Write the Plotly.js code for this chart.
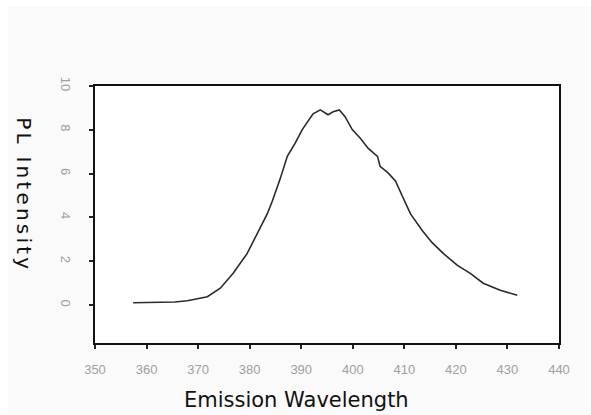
<!DOCTYPE html>
<html>
<head>
<meta charset="utf-8">
<script src="https://cdn.plot.ly/plotly-3.0.1.min.js"></script>
<style>
html,body{margin:0;padding:0;background:#ffffff;}
#chart{position:absolute;left:8px;top:6px;width:583px;height:409px;}
</style>
</head>
<body>
<div id="chart"></div>
<script>
const wavelength = [357.4, 361.3, 365.5, 367.9, 371.8, 374.3, 376.8, 379.5, 381.5, 383.4, 384.4, 385.9, 387.3, 388.8, 390.2, 391.2, 392.3, 393.7, 395.2, 396.2, 397.4, 398.5, 399.9, 401.5, 403.0, 404.8, 405.3, 406.9, 408.3, 409.6, 410.8, 411.2, 413.5, 415.4, 417.6, 420.3, 422.8, 425.3, 428.6, 431.9];
const intensity = [0.11, 0.14, 0.14, 0.20, 0.38, 0.77, 1.45, 2.35, 3.26, 4.16, 4.75, 5.75, 6.79, 7.38, 8.01, 8.37, 8.73, 8.91, 8.69, 8.82, 8.91, 8.60, 8.01, 7.60, 7.15, 6.79, 6.33, 6.02, 5.66, 4.98, 4.39, 4.16, 3.39, 2.85, 2.35, 1.81, 1.45, 1.00, 0.68, 0.45];
const xTicks = [350, 360, 370, 380, 390, 400, 410, 420, 430, 440];
const yTicks = [0, 2, 4, 6, 8, 10];
const xTitle = 'Emission Wavelength';
const yTitle = 'PL Intensity';

const trace = {
  x: wavelength, y: intensity, type: 'scatter', mode: 'lines',
  line: {color: '#2a2a2a', width: 1.6}, hoverinfo: 'skip'
};
const axisCommon = {
  showgrid: false, zeroline: false, showline: true, linecolor: '#111', linewidth: 2,
  mirror: true, ticks: 'outside', ticklen: 4, tickwidth: 2, tickcolor: '#222',
  tickfont: {family: 'Liberation Sans, Arial, sans-serif', size: 13, color: '#a0a0a0'}
};
const layout = {
  width: 583, height: 409,
  margin: {l: 87, r: 32, t: 80, b: 72},
  paper_bgcolor: '#fafafa', plot_bgcolor: '#ffffff',
  showlegend: false,
  xaxis: Object.assign({}, axisCommon, {
    range: [350, 440], tickmode: 'array', tickvals: xTicks, ticktext: xTicks.map(String),
    ticklabelstandoff: 9
  }),
  yaxis: Object.assign({}, axisCommon, {
    range: [-1.73, 10], tickmode: 'array', tickvals: yTicks, ticktext: yTicks.map(String),
    tickangle: 90, ticklabelstandoff: 12
  }),
  annotations: [
    {text: xTitle, xref: 'paper', yref: 'paper', x: 0.5, y: 0, xanchor: 'center', yanchor: 'middle',
     yshift: -57, xshift: -31,
     showarrow: false, font: {family: 'DejaVu Sans, sans-serif', size: 21, color: '#111'}},
    {text: yTitle, xref: 'paper', yref: 'paper', x: 0, y: 0.5, xanchor: 'center', yanchor: 'middle',
     xshift: -71, yshift: 20,
     textangle: 90, showarrow: false, font: {family: 'DejaVu Sans, sans-serif', size: 20, color: '#111'}}
  ]
};
Plotly.newPlot('chart', [trace], layout, {displayModeBar: false, staticPlot: true}).then(function(){
  const anns = document.querySelectorAll('#chart .annotation-text');
  if (anns.length > 1) { anns[1].style.letterSpacing = '3.2px'; }
});
</script>
</body>
</html>
